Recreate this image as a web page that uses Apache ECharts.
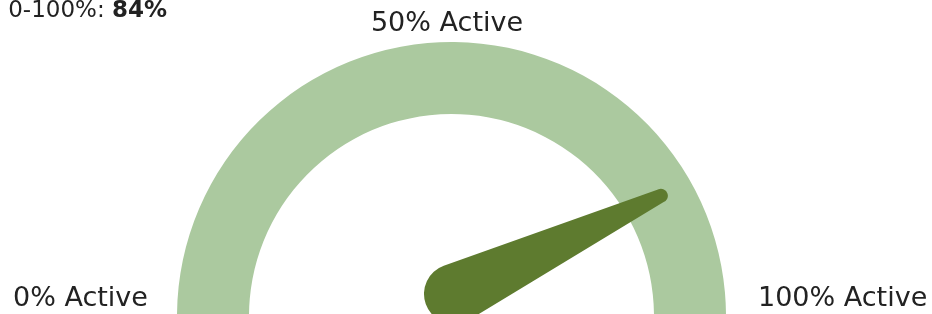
<!DOCTYPE html>
<html>
<head>
<meta charset="utf-8">
<script src="https://cdn.jsdelivr.net/npm/echarts@6/dist/echarts.min.js"></script>
<style>
html,body{margin:0;padding:0;background:#fff;}
#chart{width:932px;height:314px;}
</style>
</head>
<body>
<div id="chart"></div>
<script>
// ---- data ----
const scaleMin = 0;
const scaleMax = 100;
const activeValue = [84];
const scaleLabels = ['0% Active', '50% Active', '100% Active'];
const headerParts = ['0-100%: ', '84%'];

// ---- needle path (tapered, rounded base and tip) ----
const needlePath = 'path://M36.965 6.297 A7 7 0 1 0 23.035 6.297 L0.152 232.987 A30 30 0 1 0 59.848 232.987 Z';

const chart = echarts.init(document.getElementById('chart'), null, {renderer: 'canvas'});
const font = '"DejaVu Sans", sans-serif';

chart.setOption({
  animation: false,
  backgroundColor: '#ffffff',
  series: [
    {
      type: 'gauge',
      center: [451.5, 316.5],
      radius: 274.5,
      startAngle: 185,
      endAngle: -5,
      min: scaleMin,
      max: scaleMax,
      axisLine: {show: true, lineStyle: {width: 72, color: [[1, '#abc99f']]}},
      splitLine: {show: false},
      axisTick: {show: false},
      axisLabel: {show: false},
      pointer: {show: false},
      anchor: {show: false},
      title: {show: false},
      detail: {show: false},
      data: []
    },
    {
      type: 'gauge',
      center: [454, 294],
      radius: 236,
      startAngle: 185,
      endAngle: -5,
      min: scaleMin,
      max: scaleMax,
      z: 5,
      axisLine: {show: false},
      splitLine: {show: false},
      axisTick: {show: false},
      axisLabel: {show: false},
      progress: {show: false},
      anchor: {show: false},
      pointer: {
        show: true,
        icon: needlePath,
        keepAspect: false,
        length: 266,
        width: 60,
        offsetCenter: [0, 30]
      },
      itemStyle: {color: '#5e7b2f'},
      title: {show: false},
      detail: {show: false},
      data: [{value: activeValue[0]}]
    }
  ],
  graphic: [
    {
      type: 'text', x: 167, y: 0,
      style: {
        text: '{n|' + headerParts[0] + '}{b|' + headerParts[1] + '}',
        align: 'right', verticalAlign: 'top',
        rich: {
          n: {fontFamily: font, fontSize: 23, fill: '#222222'},
          b: {fontFamily: font, fontSize: 23, fontWeight: 'bold', fill: '#222222'}
        }
      }
    },
    {
      type: 'text', x: 447, y: 10,
      style: {text: scaleLabels[1], font: '27px ' + font, fill: '#222222', align: 'center', verticalAlign: 'top'}
    },
    {
      type: 'text', x: 13, y: 285,
      style: {text: scaleLabels[0], font: '27px ' + font, fill: '#222222', align: 'left', verticalAlign: 'top'}
    },
    {
      type: 'text', x: 758, y: 285,
      style: {text: scaleLabels[2], font: '27px ' + font, fill: '#222222', align: 'left', verticalAlign: 'top'}
    }
  ]
});
</script>
</body>
</html>
